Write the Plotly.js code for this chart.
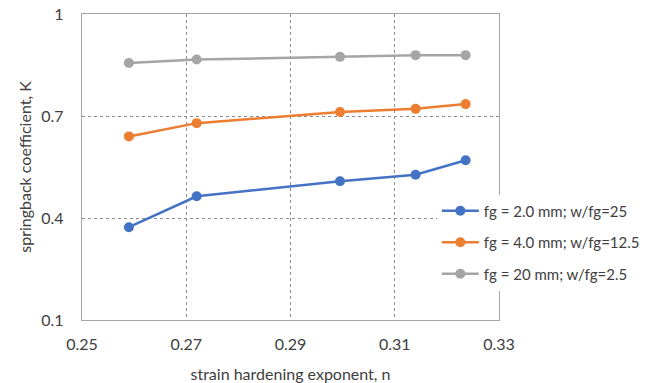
<!DOCTYPE html>
<html>
<head>
<meta charset="utf-8">
<script src="https://cdn.plot.ly/plotly-3.0.1.min.js"></script>
<style>html,body{margin:0;padding:0;background:#fff;}#chart{width:647px;height:383px;}</style>
</head>
<body>
<div id="chart"></div>
<script>
const strainN = [0.259, 0.272, 0.2995, 0.314, 0.3236];
const blueK = [0.373, 0.464, 0.508, 0.527, 0.570];
const orangeK = [0.640, 0.679, 0.712, 0.721, 0.735];
const grayK = [0.856, 0.866, 0.874, 0.879, 0.879];
const seriesNames = ['fg = 2.0 mm; w/fg=25', 'fg = 4.0 mm; w/fg=12.5', 'fg = 20 mm; w/fg=2.5'];
const seriesColors = ['#4472C4', '#ED7D31', '#A5A5A5'];
const seriesValues = [blueK, orangeK, grayK];
const xTicks = [0.25, 0.27, 0.29, 0.31, 0.33];
const yTicks = [0.1, 0.4, 0.7, 1];

const FONT = 'Lato, sans-serif';
const FS = 16;
const traces = seriesValues.map((vals, i) => ({
  x: strainN, y: vals, type: 'scatter', mode: 'lines+markers',
  name: seriesNames[i], legendgroup: 'g' + i,
  line: {color: seriesColors[i], width: 2.5},
  marker: {color: seriesColors[i], size: 10}
}));

const layout = {
  width: 647, height: 383,
  margin: {l: 82, r: 148, t: 14, b: 63, autoexpand: false},
  paper_bgcolor: '#fff', plot_bgcolor: '#fff',
  font: {family: FONT, size: FS, color: '#404040'},
  showlegend: true,
  legend: {x: 0.851, y: 0.41, xanchor: 'left', yanchor: 'top', bgcolor: '#fff',
    traceorder: 'grouped', tracegroupgap: 9, itemwidth: 37,
    font: {family: FONT, size: 15, color: '#404040'}},
  xaxis: {range: [0.25, 0.33], tickvals: xTicks, ticktext: xTicks.map(v => v.toFixed(2)),
    showgrid: true, gridcolor: '#8c8c8c', griddash: 'dot', gridwidth: 1,
    showline: true, linecolor: '#a6a6a6', linewidth: 1.2, mirror: true,
    zeroline: false, ticks: '', ticklen: 0, ticklabelstandoff: 10,
    tickfont: {family: FONT, size: FS, color: '#404040'},
    title: {text: 'strain hardening exponent, n', standoff: 16, font: {family: FONT, size: FS, color: '#404040'}}},
  yaxis: {range: [0.1, 1], tickvals: yTicks, ticktext: yTicks.map(v => String(v)),
    showgrid: true, gridcolor: '#8c8c8c', griddash: 'dot', gridwidth: 1,
    showline: true, linecolor: '#a6a6a6', linewidth: 1.2, mirror: true,
    zeroline: false, ticks: '', ticklen: 0, ticklabelstandoff: 14,
    tickfont: {family: FONT, size: FS, color: '#404040'},
    title: {text: 'springback coefficient, K', standoff: 5, font: {family: FONT, size: FS, color: '#404040'}}}
};

Plotly.newPlot('chart', traces, layout, {displayModeBar: false, staticPlot: true});
</script>
</body>
</html>
